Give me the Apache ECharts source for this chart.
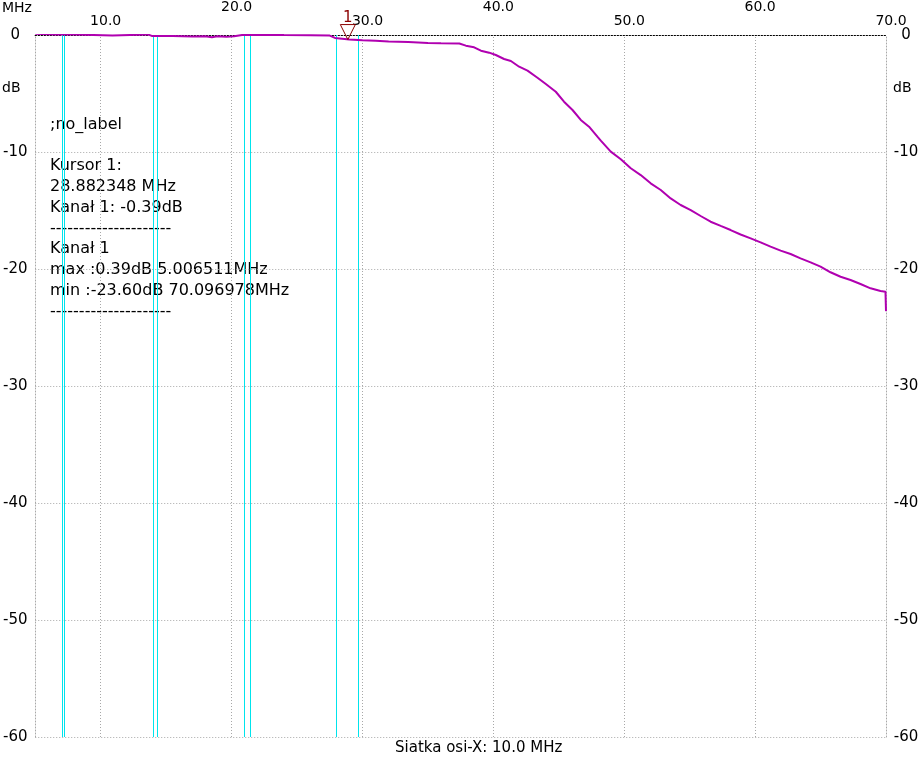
<!DOCTYPE html>
<html>
<head>
<meta charset="utf-8">
<script src="https://cdn.jsdelivr.net/npm/echarts@6/dist/echarts.min.js"></script>
<style>
html, body { margin: 0; padding: 0; background: #fff; }
#chart { width: 922px; height: 772px; }
</style>
</head>
<body>
<div id="chart"></div>
<script>
// trace: frequency in MHz, level in dB
var freq = [5.0, 6.5, 8.0, 10.9, 11.0, 13.6, 13.9, 15.5, 17.0, 18.0, 18.5, 18.9, 19.6, 20.2, 20.8,
    22.0, 24.0, 26.0, 27.5, 27.9, 29.0, 30.0, 31.0, 32.0, 33.5, 35.0, 36.0, 37.4, 37.9, 38.53,
    39.05, 39.68, 40.19, 40.82, 41.34, 41.97, 42.61, 43.37, 44.01, 44.77, 45.40, 46.05, 46.68,
    47.31, 47.95, 48.21, 48.97, 49.74, 50.50, 51.26, 52.02, 52.79, 53.55, 54.31, 55.08, 55.84,
    56.60, 57.37, 58.13, 58.89, 59.66, 60.42, 61.18, 61.95, 62.71, 63.47, 64.24, 65.00, 65.76,
    66.53, 67.29, 68.05, 68.82, 69.58, 69.96, 70.0];
var gain = [0.10, 0.05, 0.05, -0.05, 0.05, 0.05, -0.08, -0.08, -0.12, -0.10, -0.20, -0.10, -0.16, -0.10, 0.0,
    0.03, 0.0, -0.02, -0.05, -0.25, -0.38, -0.45, -0.50, -0.55, -0.60, -0.68, -0.71, -0.73, -0.91, -1.05,
    -1.34, -1.51, -1.71, -2.05, -2.22, -2.71, -3.05, -3.65, -4.19, -4.85, -5.70, -6.41, -7.26,
    -7.84, -8.69, -9.03, -9.97, -10.62, -11.39, -11.97, -12.68, -13.25, -13.97, -14.53, -14.96, -15.47,
    -15.96, -16.32, -16.67, -17.05, -17.38, -17.72, -18.09, -18.43, -18.72, -19.09, -19.43, -19.80, -20.28,
    -20.66, -20.94, -21.28, -21.65, -21.88, -21.94, -23.60];

var xLabelsLow = [10, 30, 50, 70];
var xLabelsHigh = [20, 40, 60];
var xGrid = [10, 20, 30, 40, 50, 60];
var cursorLines = [7.06, 7.21, 14.03, 14.34, 20.98, 21.44, 28.0, 29.71];
var cursor = [28.882348, -0.39];
var notes = [
    ';no_label',
    '',
    'Kursor 1:',
    '28.882348 MHz',
    'Kanał 1: -0.39dB',
    '---------------------',
    'Kanał 1',
    'max :0.39dB 5.006511MHz',
    'min :-23.60dB 70.096978MHz',
    '---------------------'
];

var font = 'DejaVu Sans';
var trace = freq.map(function (f, i) { return [f, gain[i]]; });

var marks = [];
xGrid.forEach(function (v) {
    marks.push({ xAxis: v, lineStyle: { color: '#a8a8a8', type: [1, 2], width: 1 } });
});
cursorLines.forEach(function (v) {
    marks.push({ xAxis: v, lineStyle: { color: '#00e4ec', type: 'solid', width: 1 } });
});

function topAxis(list, margin) {
    return {
        type: 'value', position: 'top', min: 5, max: 70,
        axisLine: { show: true, lineStyle: { color: '#000', type: [1, 2], width: 1 } },
        axisTick: { show: false },
        splitLine: { show: false },
        axisLabel: {
            customValues: list, margin: margin, color: '#000',
            fontFamily: font, fontSize: 14, padding: [0, 0, 0, 10],
            formatter: function (v) { return v.toFixed(1); }
        }
    };
}

function sideAxis(pos, split) {
    return {
        type: 'value', position: pos, min: -60, max: 0, interval: 10,
        axisLine: { show: true, lineStyle: { color: '#a8a8a8', type: [1, 2], width: 1 } },
        axisTick: { show: false },
        splitLine: { show: split, lineStyle: { color: '#a8a8a8', type: [1, 2], width: 1 } },
        axisLabel: { margin: 20, align: 'center', color: '#000', fontFamily: font, fontSize: 15 }
    };
}

var option = {
    animation: false,
    backgroundColor: '#fff',
    grid: { left: 34, right: 36, top: 35, bottom: 35 },
    xAxis: [topAxis(xLabelsLow, 7), topAxis(xLabelsHigh, 21)],
    yAxis: [sideAxis('left', true), sideAxis('right', false)],
    graphic: [
        { type: 'text', left: 2, top: 1, style: { text: 'MHz', fill: '#000', font: '14px ' + font } },
        { type: 'text', left: 2, top: 81, style: { text: 'dB', fill: '#000', font: '14px ' + font } },
        { type: 'text', left: 893, top: 81, style: { text: 'dB', fill: '#000', font: '14px ' + font } },
        { type: 'text', left: 395, top: 741, style: { text: 'Siatka osi-X: 10.0 MHz', fill: '#000', font: '15px ' + font } },
        { type: 'text', left: 50, top: 114, style: { text: notes.join('\n'), fill: '#000', font: '16px ' + font, lineHeight: 20.8 } }
    ],
    series: [
        {
            type: 'line', data: [], silent: true,
            markLine: { silent: true, symbol: 'none', label: { show: false }, data: marks }
        },
        {
            type: 'line', data: trace, z: 10, showSymbol: false,
            lineStyle: { color: '#b000b0', width: 2 },
            itemStyle: { color: '#b000b0' },
            markPoint: {
                z: 12,
                data: [{ coord: cursor }],
                symbol: 'path://M0,0 L16,0 L8,15 Z',
                symbolSize: [15, 15],
                symbolOffset: [0, '-50%'],
                itemStyle: { color: 'rgba(255,255,255,0)', borderColor: '#8b0000', borderWidth: 1 },
                label: { show: true, position: 'top', distance: -2, formatter: '1', color: '#8b0000', fontFamily: font, fontSize: 15 }
            }
        }
    ]
};

var myChart = echarts.init(document.getElementById('chart'));
myChart.setOption(option);
</script>
</body>
</html>
